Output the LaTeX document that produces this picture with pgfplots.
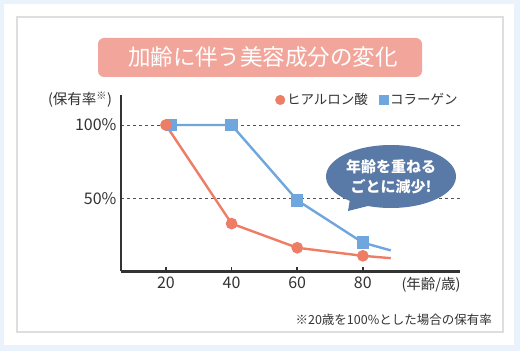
\documentclass[border=0pt]{standalone}
\usepackage{pgfplots}
\pgfplotsset{compat=1.18}
\usepackage{fontspec}
\setmainfont{Noto Sans CJK JP}
\definecolor{bgblue}{RGB}{234,242,251}
\definecolor{framegray}{RGB}{222,222,222}
\definecolor{titlepink}{RGB}{242,166,155}
\definecolor{hyared}{RGB}{238,125,102}
\definecolor{colblue}{RGB}{111,166,222}
\definecolor{bubble}{RGB}{89,121,166}
\definecolor{txt}{RGB}{51,51,51}
\begin{document}
\begin{tikzpicture}[x=1pt,y=1pt]
\fill[bgblue] (0,0) rectangle (520,351);
\fill[white] (4,6) rectangle (514,347);
\draw[framegray, line width=1.2pt] (17,19) rectangle (503,334);
\fill[titlepink, rounded corners=6pt] (98,274) rectangle (422,313);
\node[white, font=\fontsize{22.5}{23}\selectfont, inner sep=0] at (263,293.5) {加齢に伴う美容成分の変化};
\begin{axis}[
  at={(121pt,79.5pt)}, anchor=south west,
  scale only axis, width=339pt, height=176.5pt,
  xmin=6.3, xmax=109.6, ymin=0, ymax=120.5,
  axis x line*=bottom, axis y line*=left,
  axis line style={line width=2.4pt, draw=txt, -},
  xtick={20,40,60,80}, xticklabels={20,40,60,80},
  ytick={50,100}, yticklabels={50\%,100\%},
  x tick style={draw=txt, line width=1.5pt},
  y tick style={draw=none},
  major tick length=4pt, xtick align=inside,
  ymajorgrids, grid style={dashed, draw=txt!85, line width=0.8pt},
  ticklabel style={font=\fontsize{16}{16}\selectfont, text=txt},
  xticklabel style={yshift=-2pt},
  yticklabel style={xshift=-1pt},
  legend style={at={(0.455,0.972)}, anchor=west, draw=none, fill=none,
    font=\fontsize{13.5}{14}\selectfont, text=txt, inner sep=0pt,
    /tikz/every even column/.append style={column sep=9pt}},
  legend columns=2,
  legend image code/.code={\draw[#1] plot coordinates {(0pt,0pt)};},
]
\addlegendimage{only marks, mark=*, mark size=4.8pt, hyared, mark options={draw=none, fill=hyared}}
\addlegendentry{ヒアルロン酸}
\addlegendimage{only marks, mark=square*, mark size=4.6pt, colblue, mark options={draw=none, fill=colblue}}
\addlegendentry{コラーゲン}
\addplot[colblue, line width=2.4pt, mark=square*, mark size=5pt, mark indices={1,2,3,4},
  mark options={draw=none, fill=colblue}, forget plot]
  coordinates {(21.5,100) (40,100) (60,48.6) (80,19.7) (88.5,14.4)};
\addplot[hyared, line width=2.4pt, mark=*, mark size=4.6pt, mark indices={1,2,3,4},
  mark options={draw=none, fill=hyared}, forget plot]
  coordinates {(20,100) (40,32.7) (60,16.2) (80,10.7) (88.5,9.1)};
\end{axis}
\fill[bubble] (391,174.5) ellipse [x radius=65, y radius=31.5];
\fill[bubble] (350,152) -- (372,146) -- (348,140) -- cycle;
\node[white, font=\bfseries\fontsize{15}{20}\selectfont, align=center, inner sep=0] at (391,174.5) {年齢を重ねる\\ごとに減少!};
\node[txt, font=\fontsize{14.5}{14.5}\selectfont, inner sep=0] at (80,251) {(保有率\textsuperscript{※})};
\node[txt, font=\fontsize{14.5}{14.5}\selectfont, inner sep=0] at (431,66) {(年齢/歳)};
\node[txt, font=\fontsize{12.5}{12.5}\selectfont, inner sep=0, anchor=east] at (492,31) {※20歳を100\%とした場合の保有率};
\end{tikzpicture}
\end{document}
